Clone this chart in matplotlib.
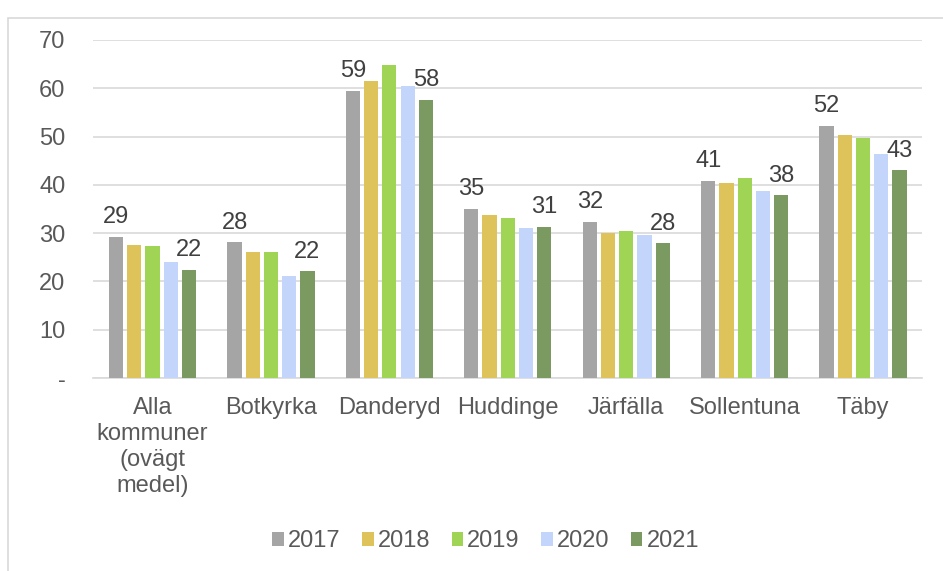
import numpy as np
import matplotlib
matplotlib.use("Agg")
from matplotlib import pyplot as plt
from matplotlib.patches import Rectangle

plt.rcParams['font.family'] = ['Liberation Sans', 'DejaVu Sans']

kommuner = ["Alla\nkommuner\n(ovägt\nmedel)", "Botkyrka", "Danderyd", "Huddinge",
            "Järfälla", "Sollentuna", "Täby"]
years = ["2017", "2018", "2019", "2020", "2021"]
v2017 = [29.3, 28.1, 59.4, 35.0, 32.4, 40.8, 52.2]
v2018 = [27.5, 26.1, 61.6, 33.8, 30.0, 40.3, 50.3]
v2019 = [27.3, 26.1, 64.8, 33.2, 30.4, 41.4, 49.8]
v2020 = [24.0, 21.2, 60.5, 31.1, 29.7, 38.8, 46.3]
v2021 = [22.4, 22.1, 57.6, 31.3, 27.9, 37.8, 43.0]
series = [v2017, v2018, v2019, v2020, v2021]
colors = ["#a5a5a5", "#ddc35a", "#9fd455", "#c3d5fb", "#7a9a61"]
fs = 17

fig = plt.figure(figsize=(9.43, 5.71), dpi=100)
ax = fig.add_axes([0.099, 0.338, 0.879, 0.592])

# ram runt diagrammet
fig.patches.append(Rectangle((8 / 943, -0.05), 1.0, 1 - 18 / 571 + 0.05,
                             transform=fig.transFigure, fill=False,
                             edgecolor="#d9d9d9", linewidth=1.2))

x = np.arange(len(kommuner))
pitch = 0.154
width = 0.12
for i, (vals, col, yr) in enumerate(zip(series, colors, years)):
    pos = x + (i - 2) * pitch
    bars = ax.bar(pos, vals, width, color=col, label=yr, zorder=3)
    if i in (0, 4):
        for b, v in zip(bars, vals):
            ax.text(b.get_x() + b.get_width() / 2, v + 1.8, f"{round(v):.0f}",
                    ha="center", va="bottom", fontsize=fs, color="#404040")

ax.set_xlim(-0.5, len(kommuner) - 0.5)
ax.set_ylim(0, 70)
ax.set_yticks(range(0, 71, 10))
ax.set_yticklabels(["-"] + [str(t) for t in range(10, 71, 10)])
ax.yaxis.grid(True, color="#d9d9d9", linewidth=1.2, zorder=0)
ax.set_xticks(x)
ax.set_xticklabels(kommuner, linespacing=1.22)
ax.tick_params(axis="both", length=0, labelsize=fs, colors="#595959")
ax.tick_params(axis="x", pad=14)
ax.tick_params(axis="y", pad=20)
for s in ["top", "right", "left"]:
    ax.spines[s].set_visible(False)
ax.spines["bottom"].set_color("#d9d9d9")
ax.spines["bottom"].set_linewidth(1.2)

leg = fig.legend(loc="center", bbox_to_anchor=(0.515, 0.052), ncol=5, frameon=False,
                 fontsize=fs, handlelength=0.5, handleheight=0.5,
                 handletextpad=0.17, columnspacing=0.9)
for t in leg.get_texts():
    t.set_color("#595959")

fig.savefig("out.png", dpi=100)
